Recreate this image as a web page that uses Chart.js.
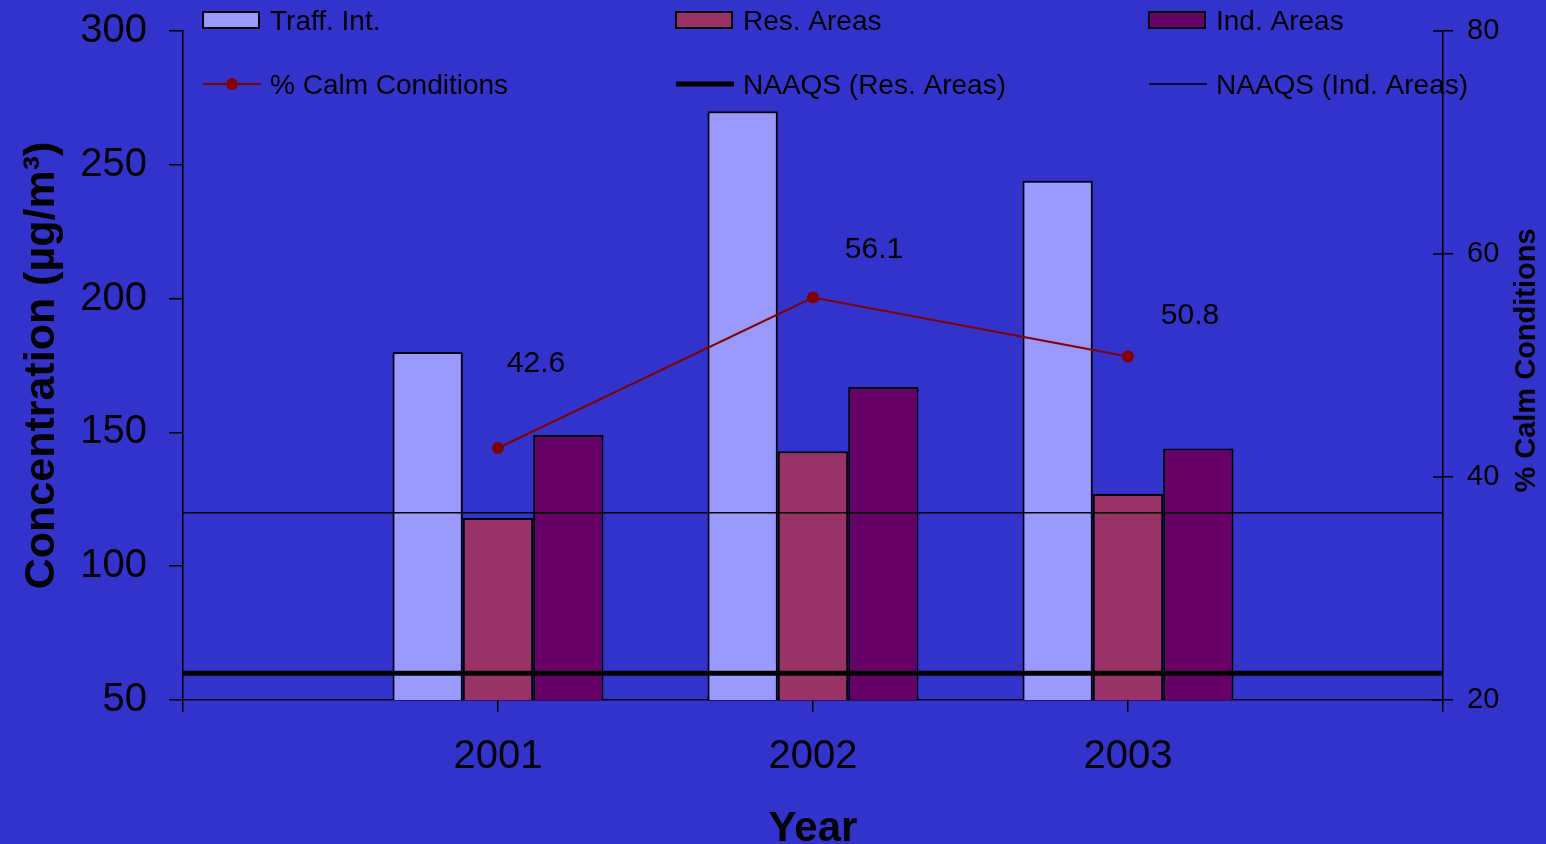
<!DOCTYPE html>
<html><head><meta charset="utf-8">
<script src="https://cdn.jsdelivr.net/npm/chart.js@4.4.0/dist/chart.umd.min.js"></script>
<style>html,body{margin:0;padding:0;background:#3333CC;overflow:hidden}
#wrap{width:1546px;height:844px;position:relative}</style>
</head><body><div id="wrap"><canvas id="c" width="1546" height="844"></canvas></div>
<script>
const categories = ['', '2001', '2002', '2003', ''];
const trafficInt = [null, 180, 270, 244, null];
const resAreas = [null, 118, 143, 127, null];
const indAreas = [null, 149, 167, 144, null];
const calmPct = [null, 42.6, 56.1, 50.8, null];
const naaqsRes = [60, 60, 60, 60, 60];
const naaqsInd = [120, 120, 120, 120, 120];
const leftTicks = [50, 100, 150, 200, 250, 300];
const rightTicks = [20, 40, 60, 80];

const FONT = '"Liberation Sans", Arial, sans-serif';
Chart.defaults.font.family = FONT;
Chart.defaults.color = '#000';

const bgPlugin = {
  id: 'bg',
  beforeDraw(chart) {
    const ctx = chart.ctx;
    ctx.save();
    ctx.fillStyle = '#3333CC';
    ctx.fillRect(0, 0, chart.width, chart.height);
    ctx.restore();
  }
};

const decorPlugin = {
  id: 'decor',
  afterDraw(chart) {
    const ctx = chart.ctx;
    const area = chart.chartArea;
    ctx.save();
    // inner ticks on right axis
    const y2 = chart.scales.y2;
    ctx.strokeStyle = '#000';
    ctx.lineWidth = 1.5;
    rightTicks.forEach(v => {
      const py = y2.getPixelForValue(v);
      ctx.beginPath();
      ctx.moveTo(area.right - 10, py);
      ctx.lineTo(area.right, py);
      ctx.stroke();
    });
    // right title, reading bottom to top
    ctx.save();
    ctx.translate(1527, (area.top + area.bottom) / 2 - 5);
    ctx.rotate(-Math.PI / 2);
    ctx.font = 'bold 29px ' + FONT;
    ctx.textAlign = 'center';
    ctx.textBaseline = 'middle';
    ctx.fillStyle = '#000';
    ctx.fillText('% Calm Conditions', 0, 0);
    ctx.restore();
    // legend
    const cols = [203, 676, 1149];
    const rows = [20, 84];
    ctx.font = '28px ' + FONT;
    ctx.textBaseline = 'middle';
    ctx.textAlign = 'left';
    chart.data.datasets.forEach((ds, i) => {
      const x = cols[i % 3], y = rows[Math.floor(i / 3)];
      if (ds.type === 'line') {
        ctx.strokeStyle = ds.borderColor;
        ctx.lineWidth = ds.borderWidth;
        ctx.beginPath();
        ctx.moveTo(x, y);
        ctx.lineTo(x + 58, y);
        ctx.stroke();
        if (ds.pointRadius > 0) {
          ctx.fillStyle = ds.pointBackgroundColor;
          ctx.beginPath();
          ctx.arc(x + 29, y, ds.pointRadius, 0, Math.PI * 2);
          ctx.fill();
        }
      } else {
        ctx.fillStyle = ds.backgroundColor;
        ctx.fillRect(x, y - 8, 56, 16);
        ctx.strokeStyle = '#000';
        ctx.lineWidth = 2;
        ctx.strokeRect(x, y - 8, 56, 16);
      }
      ctx.fillStyle = '#000';
      ctx.fillText(ds.label, x + 67, y + 2);
    });
    // data labels for calm conditions
    const idx = chart.data.datasets.findIndex(d => d.label === '% Calm Conditions');
    const meta = chart.getDatasetMeta(idx);
    const offs = [null, [38, -84], [61, -48], [62, -41]];
    ctx.font = '30px ' + FONT;
    ctx.textAlign = 'center';
    ctx.textBaseline = 'middle';
    ctx.fillStyle = '#000';
    meta.data.forEach((pt, k) => {
      const v = calmPct[k];
      if (v == null || !offs[k]) return;
      ctx.fillText(v.toFixed(1), pt.x + offs[k][0], pt.y + offs[k][1]);
    });
    ctx.restore();
  }
};

function noPad(s) {
  s.paddingTop = 0; s.paddingBottom = 0; s.paddingLeft = 0; s.paddingRight = 0;
}

const barCommon = {
  borderColor: '#000',
  borderWidth: 2,
  categoryPercentage: 0.67,
  barPercentage: 1.0,
  yAxisID: 'y',
  order: 3
};

new Chart(document.getElementById('c'), {
  type: 'bar',
  data: {
    labels: categories,
    datasets: [
      Object.assign({ label: 'Traff. Int.', data: trafficInt, backgroundColor: '#9999FF' }, barCommon),
      Object.assign({ label: 'Res. Areas', data: resAreas, backgroundColor: '#993366' }, barCommon),
      Object.assign({ label: 'Ind. Areas', data: indAreas, backgroundColor: '#660066' }, barCommon),
      { type: 'line', label: '% Calm Conditions', data: calmPct, yAxisID: 'y2',
        borderColor: '#800000', borderWidth: 2, pointRadius: 6, pointBackgroundColor: '#800000',
        pointBorderWidth: 0, pointBorderColor: '#800000', order: 0, fill: false },
      { type: 'line', label: 'NAAQS (Res. Areas)', data: naaqsRes, yAxisID: 'y',
        borderColor: '#000', borderWidth: 5, pointRadius: 0, order: 1, fill: false },
      { type: 'line', label: 'NAAQS (Ind. Areas)', data: naaqsInd, yAxisID: 'y',
        borderColor: '#000', borderWidth: 1.5, pointRadius: 0, order: 1, fill: false }
    ]
  },
  options: {
    responsive: false,
    animation: false,
    events: [],
    devicePixelRatio: 1,
    layout: { padding: { top: 31, left: 0, right: 0, bottom: 0 } },
    plugins: { legend: { display: false }, tooltip: { enabled: false } },
    scales: {
      x: {
        type: 'category',
        offset: false,
        grid: { display: true, drawOnChartArea: false, drawTicks: true, tickLength: 12, color: '#000', lineWidth: 1.5, offset: false },
        border: { display: true, color: '#000', width: 1.5 },
        ticks: { color: '#000', font: { size: 40 }, padding: 21, maxRotation: 0, autoSkip: false },
        title: { display: true, text: 'Year', color: '#000', font: { size: 42, weight: 'bold' }, padding: { top: 0, bottom: -11 } },
        afterFit(s) { s.height = 144; noPad(s); }
      },
      y: {
        position: 'left',
        min: 50, max: 300,
        afterBuildTicks(s) { s.ticks = leftTicks.map(v => ({ value: v })); },
        grid: { display: true, drawOnChartArea: false, drawTicks: true, tickLength: 14, color: '#000', lineWidth: 1.5 },
        border: { display: true, color: '#000', width: 1.5 },
        ticks: { color: '#000', font: { size: 40 }, padding: 22 },
        title: { display: true, text: 'Concentration (µg/m³)', color: '#000', font: { size: 43, weight: 'bold' }, padding: { top: 16, bottom: 0 } },
        afterFit(s) { s.width = 183; noPad(s); }
      },
      y2: {
        position: 'right',
        min: 20, max: 80,
        afterBuildTicks(s) { s.ticks = rightTicks.map(v => ({ value: v })); },
        grid: { display: true, drawOnChartArea: false, drawTicks: true, tickLength: 10, color: '#000', lineWidth: 1.5 },
        border: { display: true, color: '#000', width: 1.5 },
        ticks: { color: '#000', font: { size: 29 }, padding: 14 },
        title: { display: false },
        afterFit(s) { s.width = 103; noPad(s); }
      }
    }
  },
  plugins: [bgPlugin, decorPlugin]
});
</script>
</body></html>
